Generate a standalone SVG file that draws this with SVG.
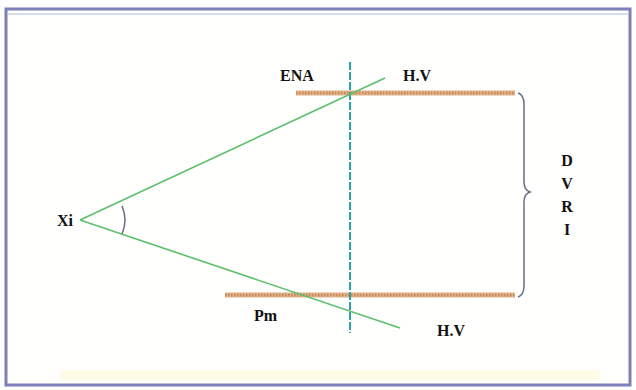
<svg xmlns="http://www.w3.org/2000/svg" width="636" height="390" viewBox="0 0 636 390">
<style>
.lbl{font-family:"Liberation Serif","Times New Roman",serif;font-weight:bold;font-size:16px;fill:#111}
.ray{stroke:#5cbf6a;stroke-width:1.6;fill:none}
.hv{stroke:#e2b48c;stroke-width:5;fill:none}
.hvt{stroke:#c98a5a;stroke-width:3;stroke-dasharray:1.5 1.5;fill:none}
.axis{stroke:#2aa3a8;stroke-width:2;stroke-dasharray:8 2;fill:none}
.brace{stroke:#6b6b88;stroke-width:1.5;fill:none}
</style>
<rect x="0" y="0" width="636" height="390" fill="#ffffff"/>
<rect x="6" y="9" width="624" height="376" fill="#fffffd" stroke="#7c7fb8" stroke-width="3"/>
<line x1="8" y1="14" x2="628" y2="14" stroke="#b0b3d8" stroke-width="1"/>
<rect x="60" y="370" width="540" height="10" fill="#fffbe6"/>
<g id="connectors">
<line class="hv" x1="296" y1="93" x2="515" y2="93"/>
<line class="hvt" x1="296" y1="93" x2="515" y2="93"/>
<line class="hv" x1="225" y1="295" x2="515" y2="295"/>
<line class="hvt" x1="225" y1="295" x2="515" y2="295"/>
<line class="axis" x1="350" y1="62" x2="350" y2="333"/>
<line class="ray" x1="80" y1="220" x2="385" y2="78"/>
<line class="ray" x1="80" y1="220" x2="400" y2="328"/>
<path class="brace" d="M122 206 Q128 220 122 234"/>
<path class="brace" d="M518 93 Q524 95 524 104 L524 182 Q524 190 530 192 Q524 194 524 202 L524 286 Q524 295 518 297"/>
</g>
<g id="ENA"><text class="lbl" x="280" y="81">ENA</text></g>
<g id="HV-top"><text class="lbl" x="403" y="81">H.V</text></g>
<g id="Xi"><text class="lbl" x="57" y="226">Xi</text></g>
<g id="Pm"><text class="lbl" x="254" y="321">Pm</text></g>
<g id="HV-bottom"><text class="lbl" x="437" y="336">H.V</text></g>
<g id="DVRI">
<text class="lbl" x="567" y="166" text-anchor="middle">D</text>
<text class="lbl" x="567" y="189" text-anchor="middle">V</text>
<text class="lbl" x="567" y="212" text-anchor="middle">R</text>
<text class="lbl" x="567" y="235" text-anchor="middle">I</text>
</g>
</svg>
